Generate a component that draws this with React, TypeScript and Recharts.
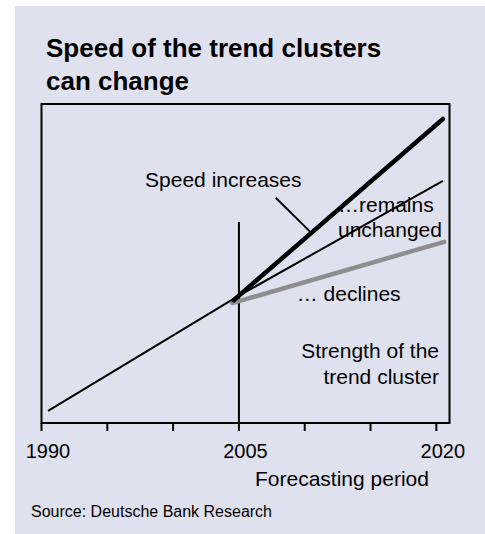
import * as React from 'react';
import {
  LineChart, Line, XAxis, YAxis, ReferenceArea, ReferenceLine,
} from 'recharts';

// Conceptual chart: values (index of "strength", 0-100)
const unchangedYears = [1990.5, 2005, 2020.5];
const unchangedValues = [3.8, 39.9, 75.9];
const increasesYears = [2004.6, 2020.5];
const increasesValues = [38.5, 95.3];
const declinesYears = [2004.5, 2020.6];
const declinesValues = [37.6, 56.8];

const tickYears = [1990, 1995, 2000, 2005, 2010, 2015, 2020];
const labelledYears = [1990, 2005, 2020];
const xDomain: [number, number] = [1990, 2021];
const yDomain: [number, number] = [0, 100];

// the 2005 marker and the pointer from "Speed increases"
const markerLine = [{ x: 2005, y: 0 }, { x: 2005, y: 63 }];
const pointerLine = [{ x: 2007.8, y: 70.6 }, { x: 2010.4, y: 60 }];

const toPoints = (xs: number[], ys: number[]) => xs.map((x, i) => ({ x, y: ys[i] }));

const unchanged = toPoints(unchangedYears, unchangedValues);
const increases = toPoints(increasesYears, increasesValues);
const declines = toPoints(declinesYears, declinesValues);

const FONT = '"Liberation Sans", Arial, sans-serif';
const BG = '#E0E1EE';

function YearTick({ x, y, payload }: any) {
  if (!labelledYears.includes(payload.value)) return null;
  return (
    <text x={x + 6.5} y={y + 25} textAnchor="middle" fontSize={20} fontFamily={FONT} fill="#000">
      {payload.value}
    </text>
  );
}

export default function App() {
  return (
    <div style={{ position: 'absolute', left: 0, top: 0, width: 485, height: 534, background: '#fff' }}>
      <div style={{ position: 'absolute', left: 15, top: 6, width: 470, height: 528, background: BG }} />
      <div style={{ position: 'absolute', left: 0, top: 0 }}>
        <LineChart
          width={485}
          height={534}
          margin={{ top: 104, right: 35.5, left: 41.5, bottom: 81 }}
        >
          <XAxis
            type="number"
            dataKey="x"
            domain={xDomain}
            ticks={tickYears}
            interval={0}
            height={30}
            tickSize={8}
            tickMargin={2}
            tick={<YearTick />}
            tickLine={{ stroke: '#000', strokeWidth: 2 }}
            axisLine={{ stroke: '#000', strokeWidth: 2 }}
            allowDataOverflow
          />
          <YAxis type="number" dataKey="y" domain={yDomain} hide width={0} allowDataOverflow />
          <ReferenceArea
            x1={xDomain[0]} x2={xDomain[1]} y1={yDomain[0]} y2={yDomain[1]}
            fill="none" stroke="#000" strokeWidth={2} fillOpacity={0}
          />
          <ReferenceLine segment={markerLine} stroke="#000" strokeWidth={2} />
          <ReferenceLine segment={pointerLine} stroke="#000" strokeWidth={2} />
          <Line data={unchanged} dataKey="y" type="linear" stroke="#000" strokeWidth={2}
            dot={false} activeDot={false} isAnimationActive={false} />
          <Line data={declines} dataKey="y" type="linear" stroke="#8E8E8E" strokeWidth={4.5}
            strokeLinecap="round" dot={false} activeDot={false} isAnimationActive={false} />
          <Line data={increases} dataKey="y" type="linear" stroke="#000" strokeWidth={4.5}
            strokeLinecap="round" dot={false} activeDot={false} isAnimationActive={false} />
        </LineChart>
      </div>
      <svg width={485} height={534} style={{ position: 'absolute', left: 0, top: 0, pointerEvents: 'none' }}
        fontFamily={FONT}>
        <text x={46} y={57} fontSize={26} fontWeight="bold">Speed of the trend clusters</text>
        <text x={46} y={90} fontSize={26} fontWeight="bold">can change</text>
        <text x={223.3} y={186.7} fontSize={21} textAnchor="middle">Speed increases</text>
        <text x={338} y={211.7} fontSize={21}>…remains</text>
        <text x={338} y={237.3} fontSize={21}>unchanged</text>
        <text x={296.7} y={300.7} fontSize={21}>… declines</text>
        <text x={439} y={358.3} fontSize={21} textAnchor="end">Strength of the</text>
        <text x={439} y={384} fontSize={21} textAnchor="end">trend cluster</text>
        <text x={255} y={486} fontSize={21}>Forecasting period</text>
        <text x={31} y={516.7} fontSize={16}>Source: Deutsche Bank Research</text>
      </svg>
    </div>
  );
}
